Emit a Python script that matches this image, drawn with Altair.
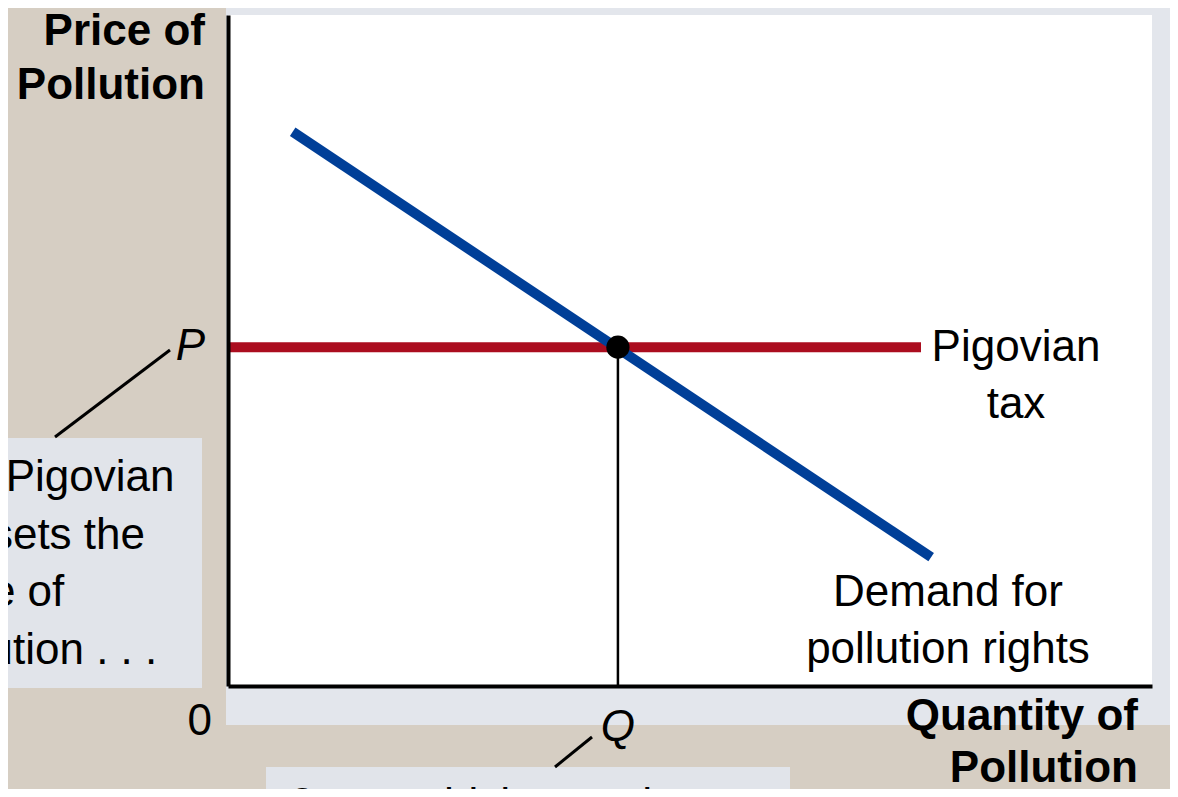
import altair as alt
import pandas as pd

# ---- data (arbitrary units 0-100) ----
demand_quantity = [7.0, 76.1]
demand_price = [82.6, 19.2]
tax_quantity = [0.0, 75.0]
tax_price = [50.5, 50.5]
equilibrium_quantity = [42.2]
equilibrium_price = [50.5]

W, H = 924, 671
FONT = "Liberation Sans"
TAN = "#d6cec3"
PANEL = "#e3e6ec"
BOX = "#e1e4ea"
BLUE = "#003f98"
RED = "#ab0d1f"

xs = alt.Scale(domain=[0, 100], nice=False, zero=False)
ys = alt.Scale(domain=[0, 100], nice=False, zero=False)
xaxis = alt.Axis(labels=False, ticks=False, grid=False, domainColor="black",
                 domainWidth=4, zindex=1)
yaxis = alt.Axis(labels=False, ticks=False, grid=False, domainColor="black",
                 domainWidth=4, zindex=1)


def X(f):
    return alt.X(f, type="quantitative", scale=xs, axis=xaxis, title=None)


def Y(f):
    return alt.Y(f, type="quantitative", scale=ys, axis=yaxis, title=None)


demand = pd.DataFrame({"q": demand_quantity, "p": demand_price})
tax = pd.DataFrame({"q": tax_quantity, "p": tax_price})
eq = pd.DataFrame({"q": equilibrium_quantity, "p": equilibrium_price,
                   "base": [0.0] * len(equilibrium_quantity)})
one = pd.DataFrame({"k": [0]})


def box(x, x2, y, y2, color):
    return alt.Chart(one).mark_rect(color=color).encode(
        x=alt.value(x), x2=alt.value(x2), y=alt.value(y), y2=alt.value(y2))


def text(s, x, y, align="center", size=44, weight="normal", style="normal"):
    return alt.Chart(one).mark_text(
        text=s, align=align, baseline="middle", font=FONT, fontSize=size,
        fontWeight=weight, fontStyle=style, color="black").encode(
        x=alt.value(x), y=alt.value(y))


def seg(x, y, x2, y2, w=3):
    return alt.Chart(one).mark_rule(color="black", strokeWidth=w).encode(
        x=alt.value(x), y=alt.value(y), x2=alt.value(x2), y2=alt.value(y2))


panel = box(-2, 960, -20, 710, PANEL)
plot_bg = box(0, W, 0, H, "white")
left_box = box(-240, -26, 423, 673, BOX)
bottom_box = box(38, 562, 752, 800, BOX)

demand_line = alt.Chart(demand).mark_line(
    color=BLUE, strokeWidth=10, strokeCap="butt").encode(x=X("q"), y=Y("p"))
tax_line = alt.Chart(tax).mark_line(
    color=RED, strokeWidth=10, strokeCap="butt").encode(x=X("q"), y=Y("p"))
vline = alt.Chart(eq).mark_rule(color="black", strokeWidth=2.5).encode(
    x=X("q"), y=Y("p"), y2="base:Q")
point = alt.Chart(eq).mark_circle(color="black", size=540, opacity=1).encode(
    x=X("q"), y=Y("p"))

p_label = alt.Chart(eq).mark_text(
    text="P", align="right", baseline="middle", font=FONT, fontSize=44,
    fontStyle="italic", color="black").encode(x=alt.value(-23), y=Y("p"))
q_label = alt.Chart(eq).mark_text(
    text="Q", align="center", baseline="middle", font=FONT, fontSize=44,
    fontStyle="italic", color="black").encode(x=X("q"), y=alt.value(713))

labels = [
    text("Price of", -23, 17, align="right", weight="bold"),
    text("Pollution", -23, 71, align="right", weight="bold"),
    text("0", -16, 707, align="right"),
    text("Quantity of", 910, 702, align="right", weight="bold"),
    text("Pollution", 910, 754, align="right", weight="bold"),
    text("Pigovian", 788, 333),
    text("tax", 788, 390),
    text("Demand for", 720, 578),
    text("pollution rights", 720, 635),
    text("1. A Pigovian", -308, 463, align="left"),
    text("tax sets the", -308, 521, align="left"),
    text("price of", -308, 578, align="left"),
    text("pollution . . .", -308, 636, align="left"),
    text("2. . . . which sets the", 62, 791, align="left"),
]

pointers = [
    seg(-173, 422, -58, 335),
    seg(327, 752, 364, 722),
]

chart = alt.layer(
    panel, plot_bg, left_box, bottom_box,
    tax_line, demand_line, vline, point, p_label, q_label,
    *labels, *pointers,
).properties(
    width=W, height=H,
    padding={"left": 220, "top": 7, "right": 18, "bottom": 103},
    autosize=alt.AutoSizeParams(type="none"),
    background=TAN,
).configure_view(strokeWidth=0)

chart.save("out.html", embed_options={"renderer": "svg", "actions": False})
